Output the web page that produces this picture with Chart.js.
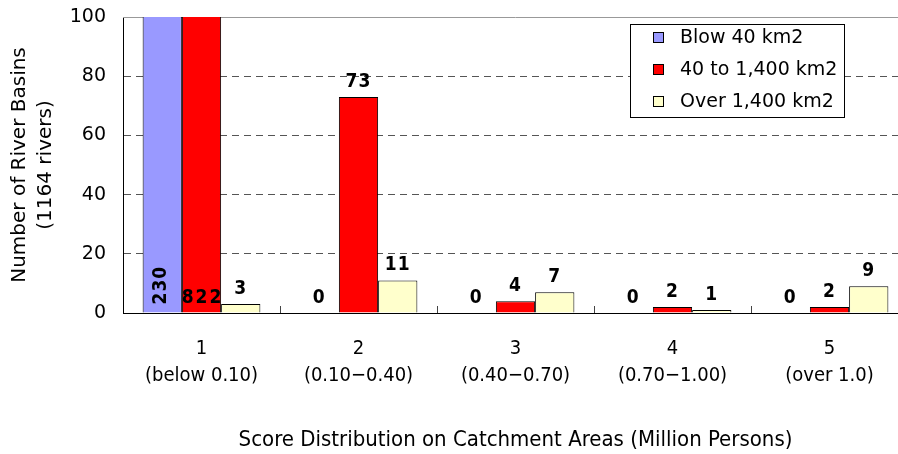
<!DOCTYPE html>
<html>
<head>
<meta charset="utf-8">
<script src="https://cdn.jsdelivr.net/npm/chart.js@4/dist/chart.umd.min.js"></script>
<style>
    html, body { margin: 0; padding: 0; background: #fff; }
    #marco { width: 898px; height: 454px; overflow: hidden; }
</style>
</head>
<body>
<div id="marco"><canvas id="grafica-cuencas" width="912" height="454"></canvas></div>
<script>
// categorias del eje x (dos lineas cada una)
const categorias = [
    ["1", "(below 0.10)"],
    ["2", "(0.10\u22120.40)"],
    ["3", "(0.40\u22120.70)"],
    ["4", "(0.70\u22121.00)"],
    ["5", "(over 1.0)"]
];
const nombresSeries = ["Blow 40 km2", "40 to 1,400 km2", "Over 1,400 km2"];
const menos40 = [230, 0, 0, 0, 0];
const de40a1400 = [822, 73, 4, 2, 2];
const mas1400 = [3, 11, 7, 1, 9];
const ticksY = [0, 20, 40, 60, 80, 100];

const coloresSeries = ["#9999FF", "#FF0000", "#FFFFCC"];

// etiquetas de valores sobre las barras
const pluginEtiquetas = {
    id: 'etiquetas',
    afterDatasetsDraw(chart) {
        const ctx = chart.ctx;
        const maxY = chart.scales.y.max;
        ctx.save();
        ctx.font = 'bold 19px "DejaVu Sans Condensed", "DejaVu Sans", sans-serif';
        ctx.fillStyle = '#000';
        chart.data.datasets.forEach((ds, i) => {
            const meta = chart.getDatasetMeta(i);
            meta.data.forEach((bar, j) => {
                const v = ds.data[j];
                const texto = String(v);
                if (v > maxY) {
                    // barra cortada: la etiqueta va dentro, abajo
                    if (i === 0) {
                        ctx.save();
                        ctx.translate(bar.x + 4, bar.base - 8);
                        ctx.rotate(-Math.PI / 2);
                        ctx.letterSpacing = '1px';
                        ctx.textAlign = 'left';
                        ctx.textBaseline = 'alphabetic';
                        ctx.fillText(texto, 0, 0);
                        ctx.restore();
                    } else {
                        ctx.save();
                        ctx.letterSpacing = '2px';
                        ctx.textAlign = 'center';
                        ctx.textBaseline = 'alphabetic';
                        ctx.fillText(texto, bar.x + 1, bar.base - 10);
                        ctx.restore();
                    }
                } else {
                    ctx.save();
                    ctx.letterSpacing = '1px';
                    ctx.textAlign = 'center';
                    ctx.textBaseline = 'alphabetic';
                    ctx.fillText(texto, bar.x, bar.y - 10);
                    ctx.restore();
                }
            });
        });
        ctx.restore();
    }
};

// linea superior, marcas del eje x y leyenda dentro del grafico
const pluginMarco = {
    id: 'marco',
    beforeDatasetsDraw(chart) {
        const ctx = chart.ctx;
        const area = chart.chartArea;
        const x = chart.scales.x;
        ctx.save();
        ctx.strokeStyle = '#999';
        ctx.lineWidth = 1;
        ctx.beginPath();
        ctx.moveTo(area.left, area.top + 0.5);
        ctx.lineTo(area.right, area.top + 0.5);
        ctx.stroke();
        ctx.strokeStyle = '#444';
        for (let i = 1; i < categorias.length; i++) {
            const px = Math.round((x.getPixelForTick(i - 1) + x.getPixelForTick(i)) / 2) + 0.5;
            ctx.beginPath();
            ctx.moveTo(px, area.bottom);
            ctx.lineTo(px, area.bottom - 7);
            ctx.stroke();
        }
        ctx.restore();
    },
    afterDraw(chart) {
        const ctx = chart.ctx;
        const bx = 630, by = 24, bw = 214, bh = 93;
        ctx.save();
        ctx.fillStyle = '#fff';
        ctx.fillRect(bx, by, bw, bh);
        ctx.strokeStyle = '#000';
        ctx.lineWidth = 1;
        ctx.strokeRect(bx + 0.5, by + 0.5, bw, bh);
        ctx.font = '19px "DejaVu Sans", sans-serif';
        ctx.textBaseline = 'middle';
        ctx.textAlign = 'left';
        chart.data.datasets.forEach((ds, i) => {
            const cy = 37 + i * 32;
            ctx.fillStyle = ds.backgroundColor;
            ctx.fillRect(653, cy - 5, 10, 10);
            ctx.strokeStyle = '#000';
            ctx.strokeRect(653.5, cy - 4.5, 10, 10);
            ctx.fillStyle = '#000';
            ctx.fillText(ds.label, 680, cy + 1);
        });
        ctx.restore();
    }
};

const ctx = document.getElementById('grafica-cuencas').getContext('2d');
const chart = new Chart(ctx, {
    type: 'bar',
    data: {
        labels: categorias,
        datasets: [
            { label: nombresSeries[0], data: menos40, backgroundColor: coloresSeries[0] },
            { label: nombresSeries[1], data: de40a1400, backgroundColor: coloresSeries[1] },
            { label: nombresSeries[2], data: mas1400, backgroundColor: coloresSeries[2] }
        ]
    },
    options: {
        responsive: false,
        animation: false,
        layout: { padding: { top: 17, right: 4, left: 0, bottom: 0 } },
        datasets: {
            bar: {
                borderColor: '#000',
                borderWidth: 1,
                barPercentage: 1,
                categoryPercentage: 0.75,
                clip: 0
            }
        },
        plugins: {
            legend: { display: false },
            tooltip: { enabled: false }
        },
        scales: {
            x: {
                grid: { display: false },
                border: { color: '#000', width: 1 },
                ticks: {
                    color: '#000',
                    font: { family: '"DejaVu Sans Condensed", "DejaVu Sans", sans-serif', size: 20, lineHeight: 1.35 },
                    padding: 14,
                    maxRotation: 0,
                    autoSkip: false
                },
                title: {
                    display: true,
                    text: 'Score Distribution on Catchment Areas (Million Persons)',
                    color: '#000',
                    font: { family: '"DejaVu Sans Condensed", "DejaVu Sans", sans-serif', size: 22, lineHeight: 1.2 },
                    padding: { top: 0, bottom: 1 }
                },
                afterFit(scale) { scale.height = 141; }
            },
            y: {
                min: 0,
                max: 100,
                afterBuildTicks(scale) { scale.ticks = ticksY.map(v => ({ value: v })); },
                grid: {
                    drawTicks: false,
                    color: c => (c.tick && (c.tick.value === 0 || c.tick.value === 100)) ? 'rgba(0,0,0,0)' : '#555'
                },
                border: { color: '#000', width: 1, dash: [7, 5] },
                ticks: {
                    color: '#000',
                    font: { family: '"DejaVu Sans", sans-serif', size: 19 },
                    padding: 17
                },
                title: {
                    display: true,
                    text: ['Number of River Basins', '(1164 rivers)'],
                    color: '#000',
                    font: { family: '"DejaVu Sans", sans-serif', size: 20, lineHeight: 1.3 },
                    padding: { top: 7, bottom: 0 }
                },
                afterFit(scale) {
                    scale.width = 123;
                    scale.paddingTop = 0;
                    scale.paddingBottom = 0;
                }
            }
        }
    },
    plugins: [pluginMarco, pluginEtiquetas]
});
</script>
</body>
</html>
